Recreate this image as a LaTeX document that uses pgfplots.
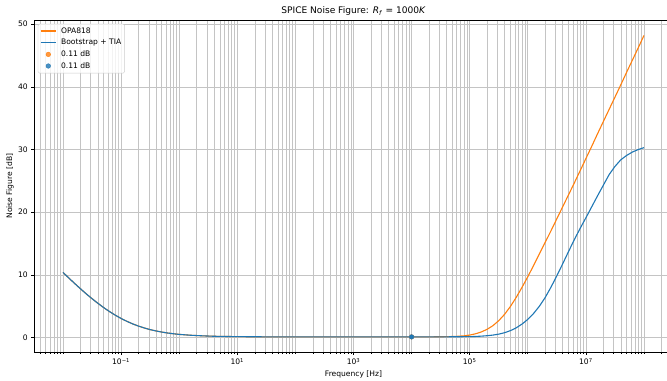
\documentclass[border=0pt]{standalone}
\usepackage{fontspec}
\setmainfont{DejaVu Sans}
\usepackage{pgfplots}
\pgfplotsset{compat=1.18}
\usepackage{pgfplotstable}
\definecolor{mplorange}{HTML}{FF7F0E}
\definecolor{mplblue}{HTML}{1F77B4}
\definecolor{gridgray}{HTML}{C4C4C4}
\pgfplotsset{
  orangelegend/.style={legend image code/.code={\draw[draw=mplorange, draw opacity=1, line width=1.4bp] (0bp,0bp) -- (15.2bp,0bp);}},
  bluelegend/.style={legend image code/.code={\draw[draw=mplblue, draw opacity=1, line width=1.4bp] (0bp,0bp) -- (15.2bp,0bp);}},
  orangedot/.style={legend image code/.code={\fill[mplorange] (7.6bp,0bp) circle (2.3bp);}},
  bluedot/.style={legend image code/.code={\fill[mplblue] (7.6bp,0bp) circle (2.3bp);}},
}

\pgfplotstableread{
f nf
0.01 10.40
0.012589 9.50
0.015849 8.63
0.019953 7.79
0.025119 6.97
0.031623 6.20
0.039811 5.47
0.050119 4.78
0.063096 4.15
0.079433 3.57
0.1 3.05
0.12589 2.59
0.15849 2.18
0.19953 1.83
0.25119 1.53
0.31623 1.27
0.39811 1.06
0.50119 0.88
0.63096 0.73
0.79433 0.61
1 0.51
1.5849 0.37
2.5119 0.28
3.9811 0.21
6.3096 0.18
10 0.15
31.623 0.12
100 0.115
1000 0.11
10000 0.11
31623 0.13
39811 0.15
50119 0.17
63096 0.21
79433 0.28
100000 0.40
125890 0.60
158490 0.90
199530 1.32
251190 1.90
316230 2.70
398110 3.70
501190 4.95
630960 6.40
794330 8.00
1000000 9.70
1258900 11.50
1584900 13.35
1995300 15.20
2511900 17.05
3162300 18.95
3981100 20.85
5011900 22.75
6309600 24.65
7943300 26.60
10000000 28.55
12589000 30.50
15849000 32.50
19953000 34.45
25119000 36.40
31623000 38.35
39811000 40.30
50119000 42.30
63096000 44.25
79433000 46.20
100000000 48.20
}\opa

\pgfplotstableread{
f nf
0.01 10.40
0.012589 9.50
0.015849 8.63
0.019953 7.79
0.025119 6.97
0.031623 6.20
0.039811 5.47
0.050119 4.78
0.063096 4.15
0.079433 3.57
0.1 3.05
0.12589 2.59
0.15849 2.18
0.19953 1.83
0.25119 1.53
0.31623 1.27
0.39811 1.06
0.50119 0.88
0.63096 0.73
0.79433 0.61
1 0.51
1.5849 0.37
2.5119 0.28
3.9811 0.21
6.3096 0.18
10 0.15
31.623 0.12
100 0.115
1000 0.11
10000 0.11
31623 0.115
100000 0.15
125890 0.18
158490 0.23
199530 0.30
251190 0.40
316230 0.55
398110 0.78
501190 1.10
630960 1.55
794330 2.15
1000000 2.90
1258900 3.85
1584900 5.00
1995300 6.40
2511900 8.05
3162300 9.85
3981100 11.75
5011900 13.70
6309600 15.60
7943300 17.40
10000000 19.10
12589000 20.85
15849000 22.60
19953000 24.30
25119000 26.00
31623000 27.30
39811000 28.35
50119000 29.05
63096000 29.60
79433000 30.00
100000000 30.30
}\boot

\begin{document}
\begin{tikzpicture}
\begin{axis}[
  scale only axis, width=639bp, height=332bp,
  xmode=log, xmin=3.1623e-3, xmax=3.1623e8, ymin=-2.3, ymax=50.67,
  xtick={1e-1,1e1,1e3,1e5,1e7},
  xticklabels={10\textsuperscript{−1},10\textsuperscript{1},10\textsuperscript{3},10\textsuperscript{5},10\textsuperscript{7}},
  minor xtick={2e-3,3e-3,4e-3,5e-3,6e-3,7e-3,8e-3,9e-3,
    1e-2,2e-2,3e-2,4e-2,5e-2,6e-2,7e-2,8e-2,9e-2,
    2e-1,3e-1,4e-1,5e-1,6e-1,7e-1,8e-1,9e-1,
    1,2,3,4,5,6,7,8,9,
    20,30,40,50,60,70,80,90,
    100,200,300,400,500,600,700,800,900,
    2000,3000,4000,5000,6000,7000,8000,9000,
    1e4,2e4,3e4,4e4,5e4,6e4,7e4,8e4,9e4,
    2e5,3e5,4e5,5e5,6e5,7e5,8e5,9e5,
    1e6,2e6,3e6,4e6,5e6,6e6,7e6,8e6,9e6,
    2e7,3e7,4e7,5e7,6e7,7e7,8e7,9e7,
    1e8,2e8,3e8},
  ytick={0,10,20,30,40,50},
  yticklabels={0,10,20,30,40,50},
  grid=both,
  major grid style={gridgray, line width=0.6bp},
  minor grid style={gridgray, line width=0.6bp},
  tick align=outside, tick pos=left,
  major tick length=2.7bp, minor tick length=1.5bp,
  every tick/.style={black, line width=0.6bp},
  axis line style={black, line width=0.6bp},
  tick label style={font=\fontsize{7.6}{9}\selectfont},
  title={SPICE Noise Figure: \textit{R}\textsubscript{\textit{f}} = 1000\textit{K}},
  xlabel={Frequency [Hz]}, ylabel={Noise Figure [dB]},
  every axis title/.style={at={(0.5,1)}, anchor=base, yshift=6bp, font=\fontsize{9.1}{11}\selectfont},
  every axis x label/.style={at={(0.5,0)}, anchor=center, yshift=-22bp, font=\fontsize{7.6}{9}\selectfont},
  every axis y label/.style={at={(0,0.5)}, xshift=-24bp, anchor=center, rotate=90, font=\fontsize{7.6}{9}\selectfont},
  legend style={at={(0,1)}, anchor=north west, xshift=3.8bp, yshift=-3.8bp,
    draw=black!20, fill=white, fill opacity=0.8, text opacity=1,
    rounded corners=1.5bp, font=\fontsize{7.6}{9}\selectfont,
    inner xsep=2bp, inner ysep=2bp, row sep=1.2bp, column sep=3bp,
    nodes={inner sep=1.5bp, text height=5.8bp, text depth=1.6bp}},
  legend cell align=left,
]
\addlegendimage{orangelegend}
\addlegendentry{OPA818}
\addlegendimage{bluelegend}
\addlegendentry{Bootstrap + TIA}
\addlegendimage{orangedot}
\addlegendentry{0.11 dB}
\addlegendimage{bluedot}
\addlegendentry{0.11 dB}
\addplot[mplorange, line width=1.1bp, forget plot] table[x=f, y=nf] {\opa};
\addplot[mplblue, line width=1.1bp, forget plot] table[x=f, y=nf] {\boot};
\addplot[only marks, mark=*, mark size=2.3bp, draw=mplorange, fill=mplorange, forget plot]
  coordinates {(1e4,0.11)};
\addplot[only marks, mark=*, mark size=2.3bp, draw=mplblue, fill=mplblue, forget plot]
  coordinates {(1e4,0.11)};
\end{axis}
\pgfresetboundingbox
\path[use as bounding box] ([shift={(-34bp,-29bp)}]current axis.south west) rectangle ([shift={(633bp,352bp)}]current axis.south west);
\end{tikzpicture}
\end{document}
